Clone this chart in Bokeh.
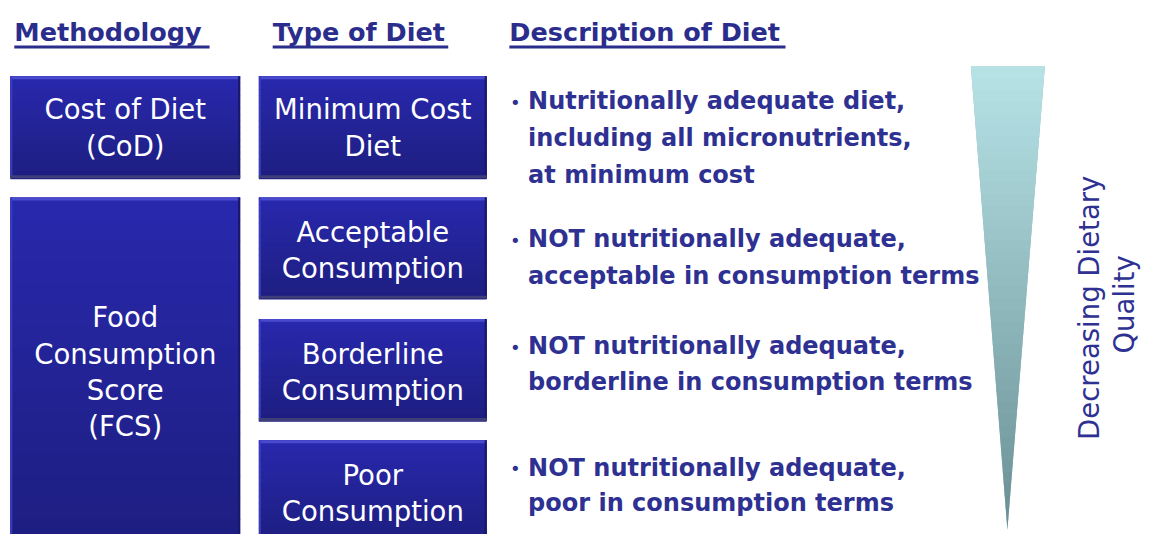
from bokeh.plotting import figure
from bokeh.models import Range1d
from bokeh.core.properties import value
from bokeh.embed import file_html
from bokeh.resources import INLINE

# ---------------- content ----------------
headings = ["Methodology", "Type of Diet", "Description of Diet"]
methodology = [["Cost of Diet", "(CoD)"],
               ["Food", "Consumption", "Score", "(FCS)"]]
diet_types = [["Minimum Cost", "Diet"],
              ["Acceptable", "Consumption"],
              ["Borderline", "Consumption"],
              ["Poor", "Consumption"]]
descriptions = [["Nutritionally adequate diet,", "including all  micronutrients,", "at minimum cost"],
                ["NOT nutritionally adequate,", "acceptable in consumption terms"],
                ["NOT nutritionally adequate,", "borderline in consumption terms"],
                ["NOT nutritionally adequate,", "poor in consumption terms"]]
quality_label = ["Decreasing  Dietary", "Quality"]

# ---------------- layout (drawn in a 1158 x 550 design space) ----------------
W, H = 1142, 534
p = figure(width=W, height=H, output_backend="svg", toolbar_location=None,
           x_range=Range1d(0, 1158), y_range=Range1d(550, 0),
           min_border=0)
p.axis.visible = False
p.grid.visible = False
p.outline_line_color = None
p.background_fill_color = "white"

FONT = value("DejaVu Sans")
NAVY = "#2E3192"
HEAD = "#2A2D8C"

# headings
head_x = [14, 276, 516]
head_w = [198, 178, 280]
p.text(x=head_x, y=[32] * 3, text=headings, text_font=FONT, text_font_style="bold",
       text_font_size="25.5px", text_color=HEAD, text_align="left", text_baseline="middle")
p.segment(x0=head_x, y0=[48] * 3, x1=[a + b for a, b in zip(head_x, head_w)], y1=[48] * 3,
          line_color=HEAD, line_width=3)


def mix(c1, c2, t):
    a = [int(c1[i:i + 2], 16) for i in (1, 3, 5)]
    b = [int(c2[i:i + 2], 16) for i in (1, 3, 5)]
    return "#%02x%02x%02x" % tuple(round(a[k] + (b[k] - a[k]) * t) for k in range(3))


def box(x0, y0, x1, y1):
    p.quad(left=[x0], right=[x1], top=[y0], bottom=[y1], fill_color="#2323A0", line_color=None)
    n = 16
    h = (y1 - y0) / n
    lefts, rights, tops, bottoms, cols = [], [], [], [], []
    for i in range(n):
        lefts.append(x0)
        rights.append(x1)
        tops.append(y0 + i * h)
        bottoms.append(y0 + (i + 1) * h + 1)
        cols.append(mix("#2828AC", "#1E1E82", i / (n - 1)))
    p.quad(left=lefts, right=rights, top=tops, bottom=bottoms, fill_color=cols, line_color=None)
    # bevel highlights / shadow
    p.quad(left=[x0], right=[x1], top=[y0], bottom=[y0 + 3], fill_color="#4A4ACF", line_color=None)
    p.quad(left=[x0], right=[x0 + 2], top=[y0], bottom=[y1], fill_color="#3A3ABE", line_color=None)
    p.quad(left=[x1 - 2], right=[x1], top=[y0], bottom=[y1], fill_color="#18186A", line_color=None)
    p.quad(left=[x0], right=[x1], top=[y1 - 3], bottom=[y1], fill_color="#3E3E78", line_color=None)


# methodology boxes
m_boxes = [(10, 78, 243, 183), (10, 203, 243, 556)]
m_line_y = [[112, 150], [326, 364, 401, 438]]
for b in m_boxes:
    box(*b)
for (x0, y0, x1, y1), lines, ys in zip(m_boxes, methodology, m_line_y):
    p.text(x=[(x0 + x1) / 2] * len(lines), y=ys, text=lines, text_font=FONT,
           text_font_size="27.5px", text_color="white", text_align="center", text_baseline="middle")

# diet type boxes
d_boxes = [(262, 78, 493, 183), (262, 203, 493, 307), (262, 328, 493, 433), (262, 453, 493, 556)]
d_line_y = [[112, 150], [238, 276], [364, 401], [489, 526]]
for b in d_boxes:
    box(*b)
for (x0, y0, x1, y1), lines, ys in zip(d_boxes, diet_types, d_line_y):
    p.text(x=[(x0 + x1) / 2] * len(lines), y=ys, text=lines, text_font=FONT,
           text_font_size="27.5px", text_color="white", text_align="center", text_baseline="middle")

# descriptions
desc_y = [[104, 142, 180], [246, 284], [356, 393], [481, 518]]
for lines, ys in zip(descriptions, desc_y):
    p.text(x=[522], y=[ys[0] + 1], text=["•"], text_font=FONT, text_font_size="18px",
           text_color=NAVY, text_align="center", text_baseline="middle")
    p.text(x=[535] * len(lines), y=ys, text=lines, text_font=FONT, text_font_style="bold",
           text_font_size="24px", text_color=NAVY, text_align="left", text_baseline="middle")

# decreasing-quality wedge with gradient
tx0, tx1, ty0, tip_x, tip_y = 984, 1059, 68, 1021, 545
p.patch(x=[tx0, tx1, tip_x], y=[ty0, ty0, tip_y], fill_color="#90B8BC", line_color=None)
n = 40
xs, ys, cols = [], [], []
for i in range(n):
    ya = ty0 + (tip_y - ty0) * i / n
    yb = min(ty0 + (tip_y - ty0) * (i + 1) / n + 1, tip_y)
    fa = (ya - ty0) / (tip_y - ty0)
    fb = (yb - ty0) / (tip_y - ty0)
    la, ra = tx0 + (tip_x - tx0) * fa, tx1 + (tip_x - tx1) * fa
    lb, rb = tx0 + (tip_x - tx0) * fb, tx1 + (tip_x - tx1) * fb
    xs.append([la, ra, rb, lb])
    ys.append([ya, ya, yb, yb])
    cols.append(mix("#B6E2E6", "#6A9095", i / (n - 1)))
p.patches(xs=xs, ys=ys, fill_color=cols, line_color=None)

# rotated label
p.text(x=[1104, 1139], y=[312, 313], text=quality_label, angle=1.5708, text_font=FONT,
       text_font_size="27.5px", text_color=NAVY, text_align="center", text_baseline="middle")

open("out.html", "w").write(file_html(p, INLINE))
